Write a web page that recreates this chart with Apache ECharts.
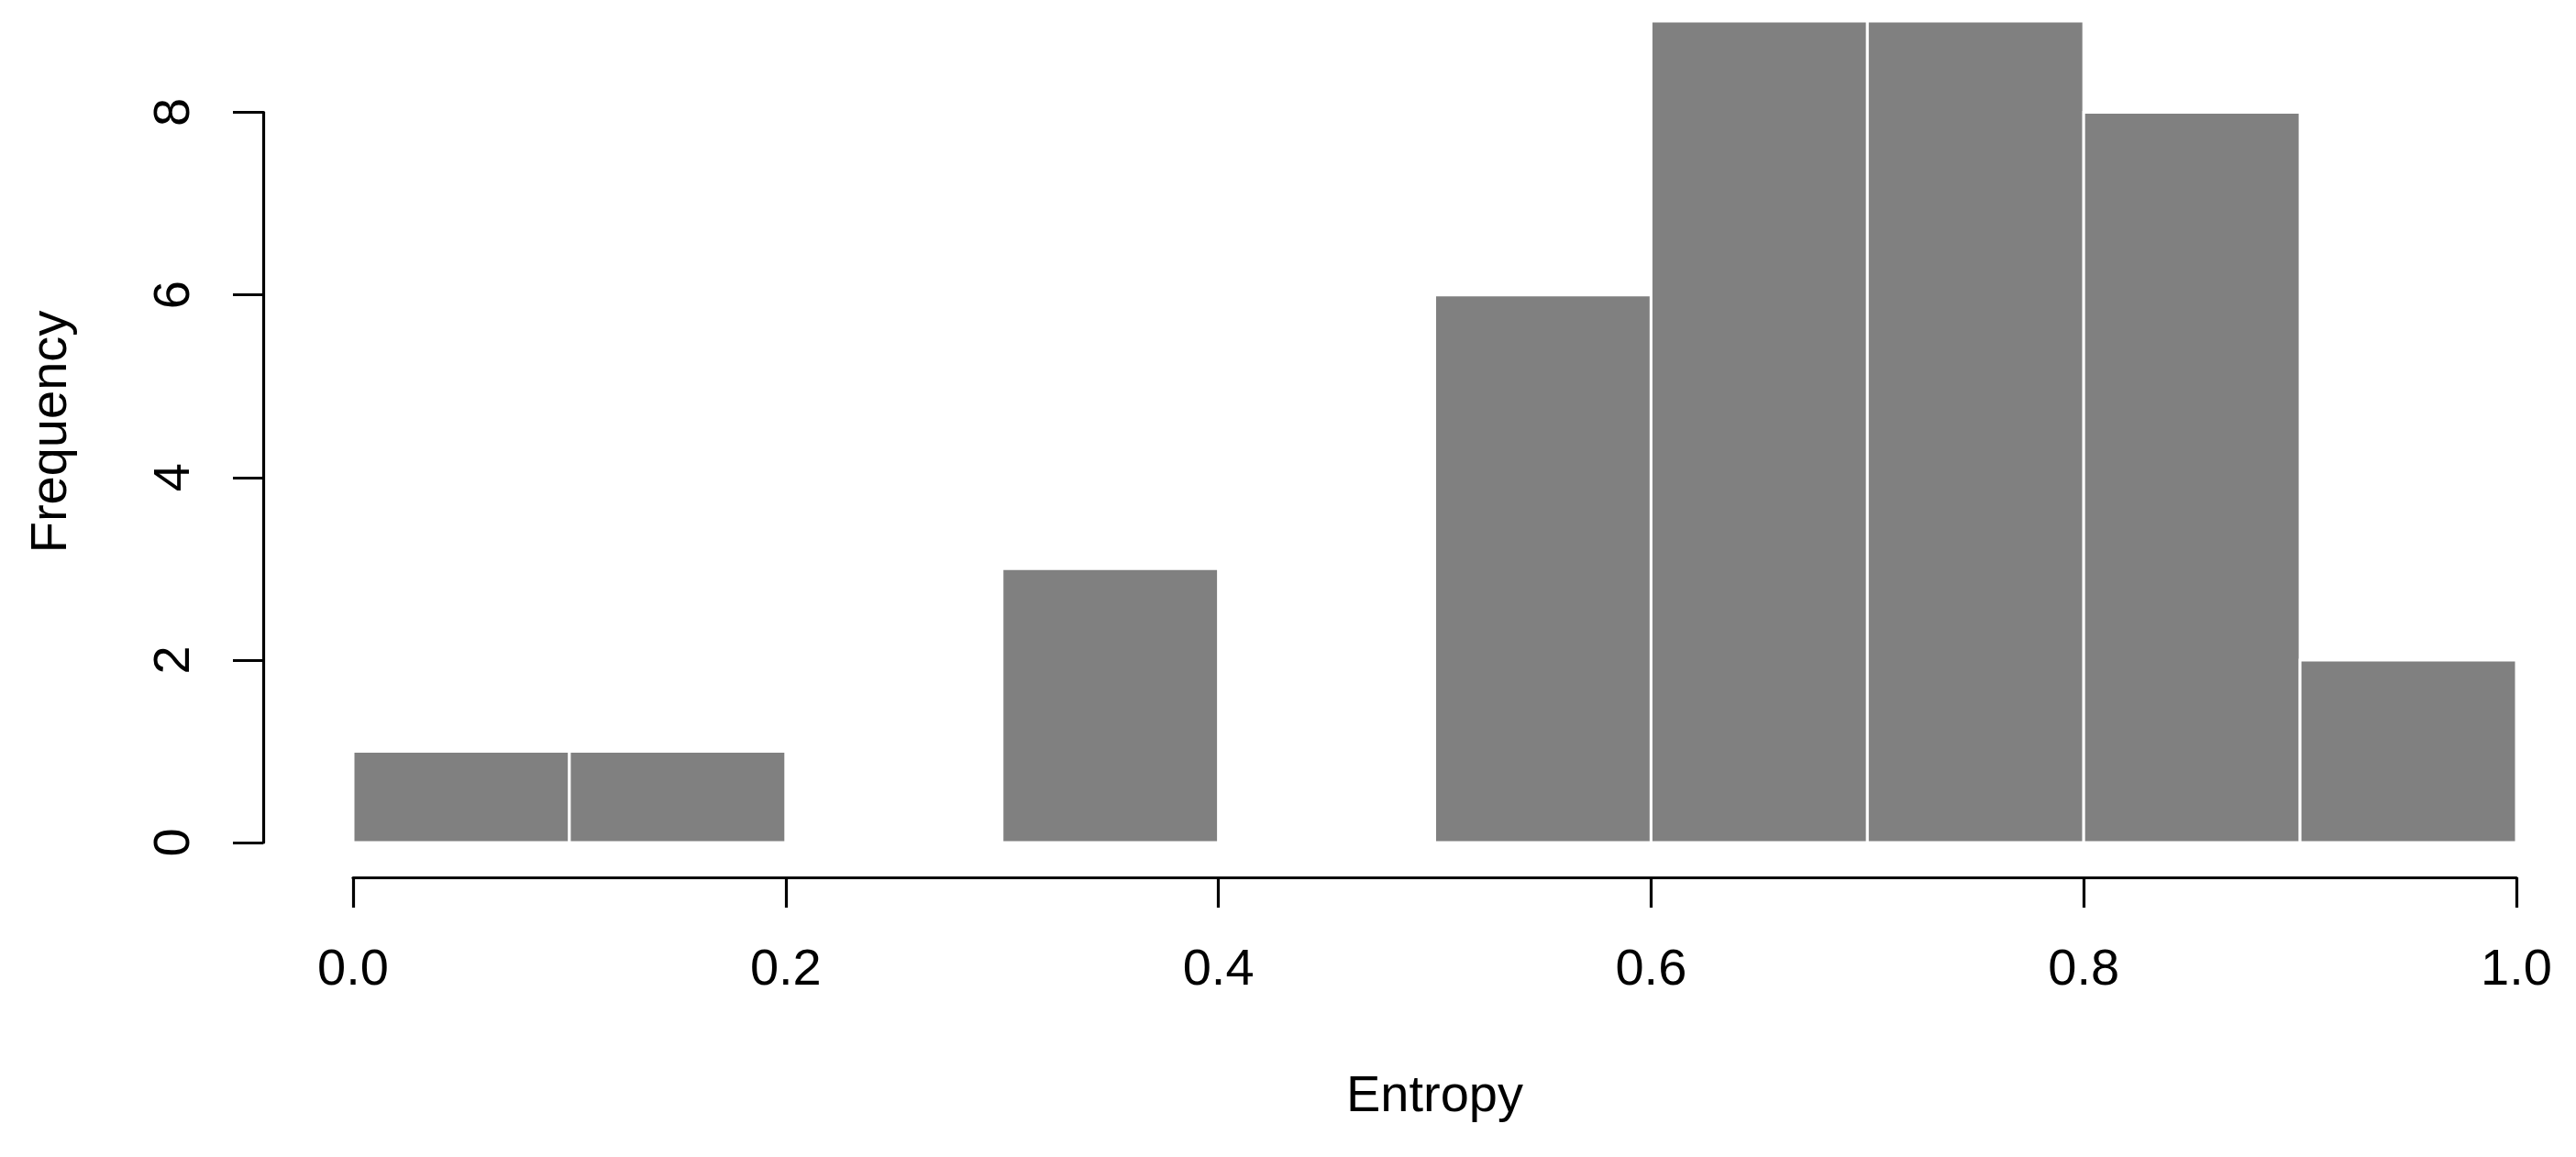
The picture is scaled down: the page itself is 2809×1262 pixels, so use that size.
<!DOCTYPE html>
<html>
<head>
<meta charset="utf-8">
<script src="https://cdn.jsdelivr.net/npm/echarts@6/dist/echarts.min.js"></script>
<style>
html,body{margin:0;padding:0;background:#fff;}
#chart{width:2809px;height:1262px;}
</style>
</head>
<body>
<div id="chart"></div>
<script>
// Histogram data: bin edges and counts per bin
const binEdges = [0.0, 0.1, 0.2, 0.3, 0.4, 0.5, 0.6, 0.7, 0.8, 0.9, 1.0];
const counts = [1, 1, 0, 3, 0, 6, 9, 9, 8, 2];
const xTicks = [0.0, 0.2, 0.4, 0.6, 0.8, 1.0];
const yTicks = [0, 2, 4, 6, 8];
const xLabel = 'Entropy';
const yLabel = 'Frequency';

const FONT = "'Liberation Sans', Arial, sans-serif";
const data = counts.map((c, i) => [binEdges[i], binEdges[i + 1], c]);

const chart = echarts.init(document.getElementById('chart'), null, {renderer: 'canvas'});
chart.setOption({
  animation: false,
  backgroundColor: '#ffffff',
  grid: [
    {left: 385, right: 65, top: 23, bottom: 343},
    {left: 385, right: 65, top: 122.5, bottom: 343}
  ],
  xAxis: [
    {
      gridIndex: 0, type: 'value',
      min: xTicks[0], max: xTicks[xTicks.length - 1], interval: 0.2,
      offset: 38,
      axisLine: {show: true, onZero: false, lineStyle: {color: '#000', width: 3.2}},
      axisTick: {show: true, length: 33, lineStyle: {color: '#000', width: 3.2}},
      axisLabel: {show: true, color: '#000', fontSize: 56, fontFamily: FONT, margin: 74,
        formatter: v => v.toFixed(1)},
      splitLine: {show: false},
      name: xLabel, nameLocation: 'middle', nameGap: 212,
      nameTextStyle: {color: '#000', fontSize: 56, fontFamily: FONT}
    },
    {
      gridIndex: 1, type: 'value', min: 0, max: 1, show: false
    }
  ],
  yAxis: [
    {
      gridIndex: 0, type: 'value', min: 0, max: 9,
      axisLine: {show: false, onZero: false}, axisTick: {show: false}, axisLabel: {show: false},
      splitLine: {show: false},
      name: yLabel, nameLocation: 'middle', nameGap: 300, nameRotate: 90,
      nameTextStyle: {color: '#000', fontSize: 56, fontFamily: FONT}
    },
    {
      gridIndex: 1, type: 'value',
      min: yTicks[0], max: yTicks[yTicks.length - 1], interval: 2,
      offset: 98,
      axisLine: {show: true, onZero: false, lineStyle: {color: '#000', width: 3.2}},
      axisTick: {show: true, length: 33, lineStyle: {color: '#000', width: 3.2}},
      axisLabel: {show: true, color: '#000', fontSize: 56, fontFamily: FONT, margin: 68, rotate: 90},
      splitLine: {show: false}
    }
  ],
  series: [
    {
      type: 'custom',
      xAxisIndex: 0, yAxisIndex: 0,
      data: data,
      renderItem: function (params, api) {
        const p0 = api.coord([api.value(0), api.value(2)]);
        const p1 = api.coord([api.value(1), 0]);
        return {
          type: 'rect',
          shape: {x: p0[0], y: p0[1], width: p1[0] - p0[0], height: p1[1] - p0[1]},
          style: {fill: '#808080', stroke: '#ffffff', lineWidth: 3}
        };
      }
    }
  ]
});
</script>
</body>
</html>
